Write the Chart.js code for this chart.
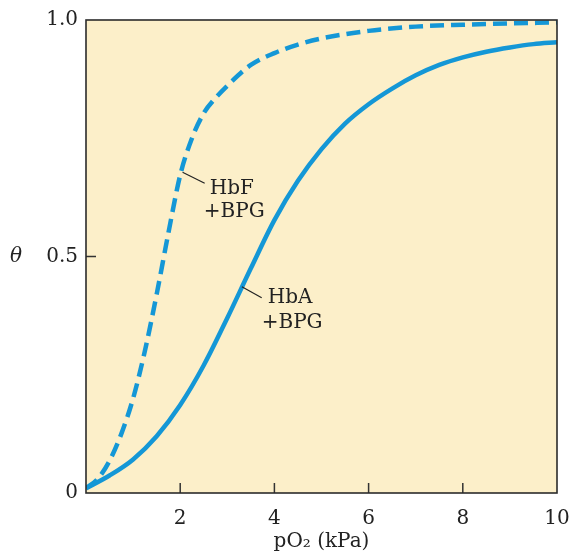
<!DOCTYPE html>
<html lang="en">
<head>
<meta charset="UTF-8">
<title>Oxygen binding: HbF vs HbA</title>
<script src="https://cdn.jsdelivr.net/npm/chart.js"></script>
<style>
  html, body {
    margin: 0;
    padding: 0;
    background: #ffffff;
  }
  #wrap {
    width: 574px;
    height: 554px;
  }
</style>
</head>
<body>
<div id="wrap">
  <canvas id="bindingChart" width="574" height="554"></canvas>
</div>
<script>
// pO2 (kPa) and fractional saturation theta
const hbfPO2 = [0, 0.25, 0.5, 0.75, 1.0, 1.25, 1.5, 1.75, 2.0, 2.25, 2.5, 2.75, 3.0, 3.5, 4.0, 4.5, 5.0, 6.0, 7.0, 8.0, 10];
const hbfTheta = [0.01, 0.03, 0.068, 0.125, 0.2, 0.3, 0.42, 0.55, 0.672, 0.75, 0.803, 0.835, 0.861, 0.905, 0.93, 0.948, 0.961, 0.977, 0.986, 0.99, 0.995];

const hbaPO2 = [0, 0.5, 1.0, 1.5, 2.0, 2.5, 3.0, 3.5, 4.0, 4.5, 5.0, 5.5, 6.0, 6.5, 7.0, 7.5, 8.0, 8.5, 9.0, 9.5, 10];
const hbaTheta = [0.01, 0.037, 0.071, 0.12, 0.186, 0.27, 0.37, 0.475, 0.577, 0.66, 0.727, 0.781, 0.822, 0.855, 0.883, 0.905, 0.921, 0.933, 0.942, 0.949, 0.953];

const xTicks = [2, 4, 6, 8, 10];
const yTicks = [0, 0.5, 1.0];

// curve labels: leader line from the curve to the text, text anchors, in data units
const curveLabels = [
  { lines: ['HbF', '+BPG'], from: [2.05, 0.678], to: [2.52, 0.655], text: [[2.63, 0.644], [2.5, 0.595]] },
  { lines: ['HbA', '+BPG'], from: [3.31, 0.436], to: [3.73, 0.413], text: [[3.86, 0.413], [3.73, 0.36]] }
];

const blue = '#1497d6';
const serif = '"DejaVu Serif", "Liberation Serif", serif';

function toPoints(xs, ys) {
  return xs.map((x, i) => ({ x: x, y: ys[i] }));
}

const plotDecor = {
  id: 'plotDecor',
  beforeDatasetsDraw(chart) {
    const { ctx, chartArea: a } = chart;
    ctx.save();
    ctx.fillStyle = '#fcefc9';
    ctx.fillRect(a.left, a.top, a.right - a.left, a.bottom - a.top);
    ctx.restore();
  },
  afterDraw(chart) {
    const { ctx, chartArea: a, scales } = chart;
    ctx.save();
    // inward tick marks
    ctx.strokeStyle = '#333333';
    ctx.lineWidth = 1.5;
    ctx.beginPath();
    xTicks.forEach(v => {
      if (v >= scales.x.max) return;
      const px = scales.x.getPixelForValue(v);
      ctx.moveTo(px, a.bottom);
      ctx.lineTo(px, a.bottom - 10);
    });
    yTicks.forEach(v => {
      if (v <= scales.y.min || v >= scales.y.max) return;
      const py = scales.y.getPixelForValue(v);
      ctx.moveTo(a.left, py);
      ctx.lineTo(a.left + 10, py);
    });
    ctx.stroke();

    // frame
    ctx.strokeStyle = '#2b2b2b';
    ctx.lineWidth = 1.6;
    ctx.strokeRect(a.left, a.top, a.right - a.left, a.bottom - a.top);

    // curve labels with leader lines
    ctx.lineWidth = 1.2;
    ctx.strokeStyle = '#222222';
    ctx.fillStyle = '#222222';
    ctx.font = '20px ' + serif;
    ctx.textBaseline = 'middle';
    ctx.textAlign = 'left';
    curveLabels.forEach(l => {
      ctx.beginPath();
      ctx.moveTo(scales.x.getPixelForValue(l.from[0]), scales.y.getPixelForValue(l.from[1]));
      ctx.lineTo(scales.x.getPixelForValue(l.to[0]), scales.y.getPixelForValue(l.to[1]));
      ctx.stroke();
      l.lines.forEach((t, i) => {
        ctx.fillText(t, scales.x.getPixelForValue(l.text[i][0]), scales.y.getPixelForValue(l.text[i][1]));
      });
    });

    // theta axis label (upright, left of tick labels)
    ctx.font = 'italic 20px ' + serif;
    ctx.textAlign = 'center';
    ctx.fillText('\u03b8', 16, scales.y.getPixelForValue(0.5));
    ctx.restore();
  }
};

const ctx = document.getElementById('bindingChart').getContext('2d');
new Chart(ctx, {
  type: 'line',
  data: {
    datasets: [
      {
        label: 'HbF +BPG',
        data: toPoints(hbfPO2, hbfTheta),
        borderColor: blue,
        borderWidth: 4.5,
        borderDash: [14, 7],
        pointRadius: 0,
        fill: false,
        cubicInterpolationMode: 'monotone'
      },
      {
        label: 'HbA +BPG',
        data: toPoints(hbaPO2, hbaTheta),
        borderColor: blue,
        borderWidth: 4.5,
        pointRadius: 0,
        fill: false,
        cubicInterpolationMode: 'monotone'
      }
    ]
  },
  options: {
    responsive: false,
    animation: false,
    layout: {
      padding: { left: 30, right: 17, top: 20, bottom: 0 }
    },
    plugins: {
      legend: { display: false },
      tooltip: { enabled: false }
    },
    scales: {
      x: {
        type: 'linear',
        min: 0,
        max: 10,
        afterBuildTicks(scale) {
          scale.ticks = xTicks.map(v => ({ value: v }));
        },
        afterFit(scale) {
          scale.height = 61;
          scale.paddingLeft = 0;
          scale.paddingRight = 0;
        },
        grid: { display: false, drawTicks: false },
        border: { display: false },
        ticks: {
          padding: 14,
          maxRotation: 0,
          color: '#222222',
          font: { family: serif, size: 20 }
        },
        title: {
          display: true,
          text: 'pO\u2082 (kPa)',
          color: '#222222',
          font: { family: serif, size: 20 },
          padding: { top: 0, bottom: 0 }
        }
      },
      y: {
        type: 'linear',
        min: 0,
        max: 1,
        afterBuildTicks(scale) {
          scale.ticks = yTicks.map(v => ({ value: v }));
        },
        afterFit(scale) {
          scale.width = 56;
        },
        grid: { display: false, drawTicks: false },
        border: { display: false },
        ticks: {
          padding: 8,
          color: '#222222',
          font: { family: serif, size: 20 },
          callback: v => (v === 0 ? '0' : v.toFixed(1))
        }
      }
    }
  },
  plugins: [plotDecor]
});
</script>
</body>
</html>
